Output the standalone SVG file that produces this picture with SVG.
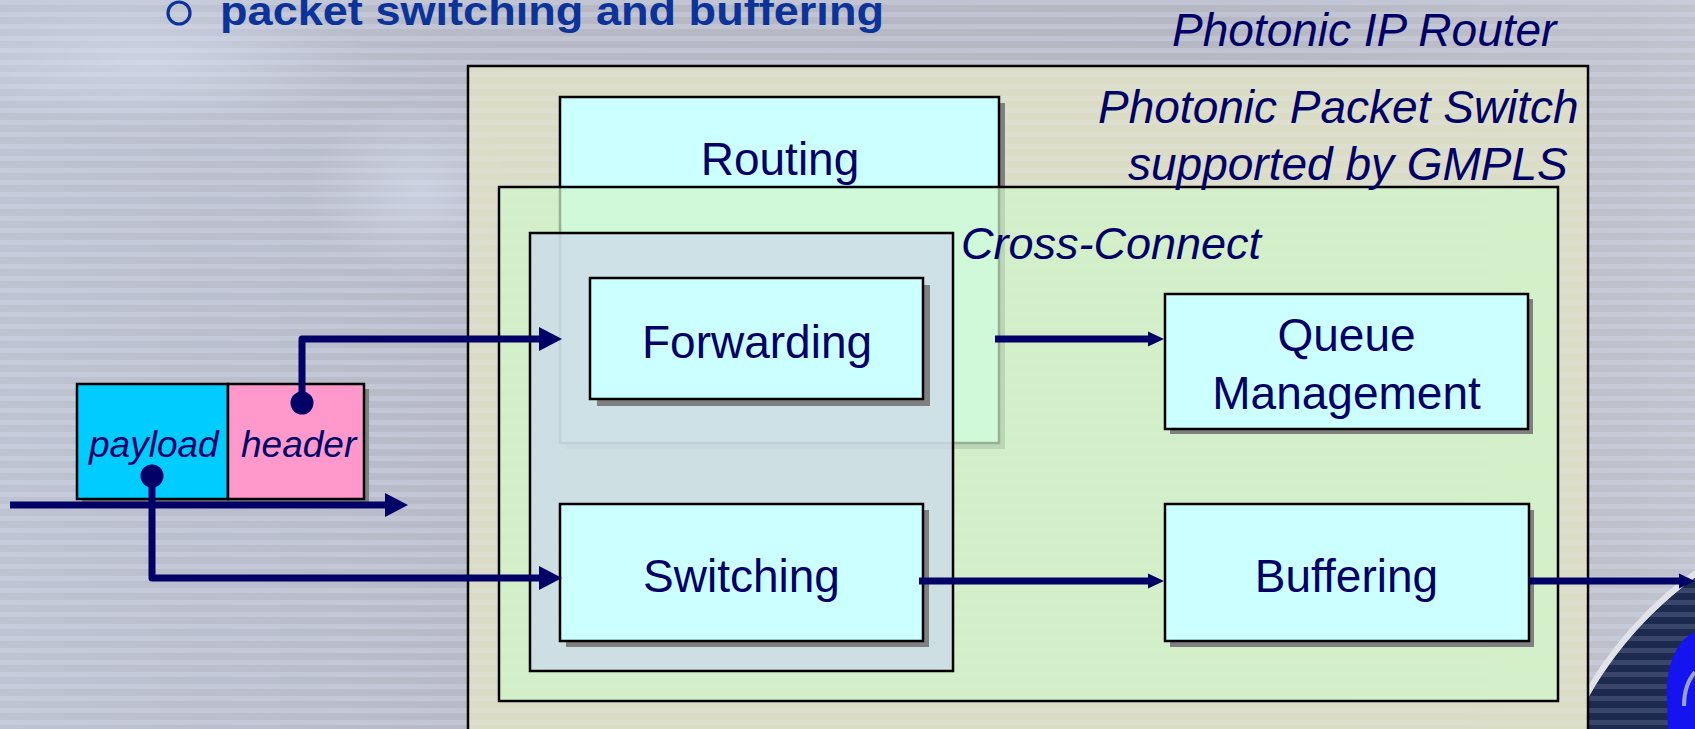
<svg xmlns="http://www.w3.org/2000/svg" width="1695" height="729" viewBox="0 0 1695 729">
<defs>
<style>
.box{fill:#ccffff;stroke:#000;stroke-width:2.5}
.shadow{fill:#808080}
.lbl{font-family:"Liberation Sans",Arial,sans-serif;font-size:46px;fill:#000066;text-anchor:middle}
.ital{font-family:"Liberation Sans",Arial,sans-serif;font-style:italic;fill:#000066}
.conn{fill:none;stroke:#000066;stroke-width:7;stroke-linejoin:round}
.dot{fill:#000066}
</style>
<linearGradient id="bg" x1="0" y1="0" x2="1" y2="0">
<stop offset="0" stop-color="#bec3d2"/>
<stop offset="0.3" stop-color="#b7b9c6"/>
<stop offset="0.7" stop-color="#b5b7c3"/>
<stop offset="1" stop-color="#c0c2cd"/>
</linearGradient>
<radialGradient id="blob" cx="0.5" cy="0.5" r="0.5">
<stop offset="0" stop-color="#e4ecff" stop-opacity="0.4"/>
<stop offset="1" stop-color="#e4ecff" stop-opacity="0"/>
</radialGradient>
<pattern id="stripes" width="40" height="12" patternUnits="userSpaceOnUse">
<rect x="0" y="0" width="40" height="5" fill="#dfe7fb" opacity="0.25"/>
</pattern>
<marker id="big" markerUnits="userSpaceOnUse" markerWidth="30" markerHeight="30" viewBox="0 -15 30 30" refX="1" refY="0" orient="auto">
<path d="M0,-12 L23,0 L0,12 Z" fill="#000066"/>
</marker>
<marker id="small" markerUnits="userSpaceOnUse" markerWidth="20" markerHeight="20" viewBox="0 -10 20 20" refX="1" refY="0" orient="auto">
<path d="M0,-7.5 L16,0 L0,7.5 Z" fill="#000066"/>
</marker>
<clipPath id="corner"><rect x="1588" y="500" width="107" height="229"/></clipPath>
</defs>

<g id="background">
<rect x="0" y="0" width="1695" height="729" fill="url(#bg)"/>
<ellipse cx="420" cy="190" rx="110" ry="90" fill="url(#blob)"/>
<ellipse cx="150" cy="60" rx="220" ry="70" fill="url(#blob)"/>
<rect x="0" y="0" width="1695" height="729" fill="url(#stripes)"/>
<g clip-path="url(#corner)">
<circle cx="1920" cy="885" r="381" fill="#1c2a50"/>
<circle cx="1920" cy="885" r="381" fill="url(#stripes)" opacity="0.6"/>
<circle cx="1920" cy="885" r="384" fill="none" stroke="#e2e3e8" stroke-width="6"/>
<path d="M1695,632 C1676,640 1665,668 1667,700 L1668,729 L1695,729 Z" fill="#1414f0"/>
<path d="M1695,672 C1688,680 1684,692 1684,706" fill="none" stroke="#9aa0c0" stroke-width="4"/>
</g>
</g>

<g id="title">
<ellipse cx="179" cy="13" rx="11" ry="11" fill="none" stroke="#0b3399" stroke-width="3.2"/>
<text x="220" y="25" font-family="Liberation Sans, Arial, sans-serif" font-weight="bold" font-size="40" fill="#0b3399" textLength="664" lengthAdjust="spacingAndGlyphs">packet switching and buffering</text>
</g>

<g id="photonic-ip-router">
<rect x="468" y="66" width="1120" height="700" fill="#dcdec7" stroke="#000" stroke-width="2.5" opacity="0.97"/>
<rect x="469" y="67" width="1118" height="662" fill="url(#stripes)" opacity="0.5"/>
<text class="ital" x="1172" y="46" font-size="46">Photonic IP Router</text>
</g>

<g id="routing">
<rect class="shadow" x="566" y="103" width="439" height="346"/>
<rect class="box" x="560" y="97" width="439" height="346"/>
<text class="lbl" x="780" y="175">Routing</text>
</g>

<g id="photonic-packet-switch">
<rect x="499" y="187" width="1059" height="514" fill="#d0f6cb" fill-opacity="0.72" stroke="#000" stroke-width="2.5"/>
<text class="ital" x="1098" y="123" font-size="46">Photonic Packet Switch</text>
<text class="ital" x="1128" y="180" font-size="46">supported by GMPLS</text>
</g>

<g id="cross-connect">
<rect x="530" y="233" width="423" height="438" fill="#cddaea" fill-opacity="0.78" stroke="#000" stroke-width="2.5"/>
<text class="ital" x="961" y="259" font-size="45">Cross-Connect</text>
</g>

<g id="forwarding">
<rect class="shadow" x="597" y="285" width="333" height="121"/>
<rect class="box" x="590" y="278" width="333" height="121"/>
<text class="lbl" x="757" y="358">Forwarding</text>
</g>

<g id="switching">
<rect class="shadow" x="566" y="510" width="363" height="137"/>
<rect class="box" x="560" y="504" width="363" height="137"/>
<text class="lbl" x="741.5" y="592">Switching</text>
</g>

<g id="queue-management">
<rect class="shadow" x="1170" y="299" width="363" height="135"/>
<rect class="box" x="1165" y="294" width="363" height="135"/>
<text class="lbl" x="1346.5" y="351">Queue</text>
<text class="lbl" x="1346.5" y="409">Management</text>
</g>

<g id="buffering">
<rect class="shadow" x="1170" y="510" width="364" height="137"/>
<rect class="box" x="1165" y="504" width="364" height="137"/>
<text class="lbl" x="1346.5" y="592">Buffering</text>
</g>

<g id="packet">
<rect class="shadow" x="82" y="389" width="287" height="115"/>
<rect id="payload" x="77" y="384" width="151" height="115" fill="#00ccff" stroke="#000" stroke-width="2.5"/>
<rect id="header" x="228" y="384" width="136" height="115" fill="#ff99cc" stroke="#000" stroke-width="2.5"/>
<text class="ital" x="89" y="457" font-size="37">payload</text>
<text class="ital" x="241" y="457" font-size="37">header</text>
</g>

<g id="connectors">
<path class="conn" d="M10,505 H386" stroke-width="11" marker-end="url(#big)"/>
<path class="conn" d="M302,403 V339 H540" marker-end="url(#big)"/>
<path class="conn" d="M152,476 V578 H540" marker-end="url(#big)"/>
<path class="conn" d="M995,339 H1149" marker-end="url(#small)"/>
<path class="conn" d="M919,581 H1149" marker-end="url(#small)"/>
<path class="conn" d="M1529,581 H1680" marker-end="url(#small)"/>
<circle class="dot" cx="302" cy="403" r="11.5"/>
<circle class="dot" cx="152" cy="476" r="11.5"/>
</g>
</svg>
